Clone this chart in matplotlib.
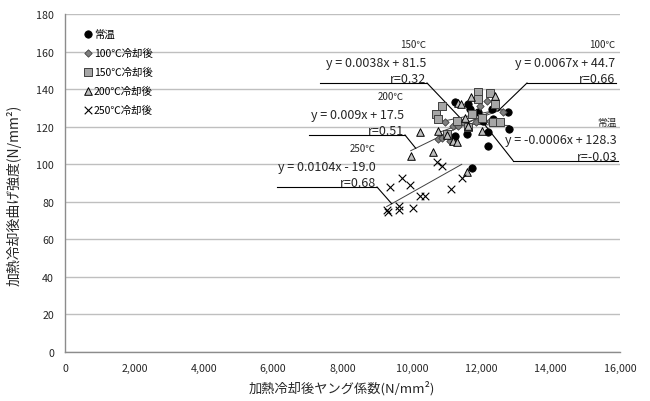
import matplotlib
matplotlib.use("Agg")
import matplotlib.pyplot as plt
import numpy as np

plt.rcParams['font.family'] = ['Noto Sans CJK JP', 'DejaVu Sans']

# ---- data (Young's modulus N/mm2, bending strength N/mm2) ----
rt_x = [11244, 11627, 11676, 11915, 12302, 12348, 12780, 12809, 12204, 12204, 11598, 11244, 11742, 12060]
rt_y = [133.3, 132.1, 129.4, 127.6, 129.4, 124.1, 127.6, 118.7, 117.0, 109.9, 116.1, 115.2, 98.0, 123.2]

c100_x = [10955, 11964, 12157, 11177, 11483, 11849, 10762, 10860, 11099, 11339, 12253, 12636]
c100_y = [122.3, 131.2, 133.8, 120.5, 122.3, 122.6, 113.4, 113.8, 112.5, 120.5, 123.2, 127.6]

c150_x = [11898, 12253, 10860, 10696, 10762, 12397, 11915, 11293, 11022, 12031, 12348, 12541, 11627, 11725]
c150_y = [138.6, 137.9, 131.2, 126.7, 124.1, 132.1, 134.7, 123.2, 116.1, 124.4, 122.3, 122.3, 120.0, 126.7]

c200_x = [11696, 12397, 11339, 11408, 11532, 12013, 11195, 11293, 11004, 11627, 10234, 9966, 10609, 10762, 11598]
c200_y = [135.6, 136.2, 132.6, 132.1, 124.4, 117.8, 112.5, 111.7, 115.6, 120.2, 117.3, 104.2, 106.3, 117.8, 95.7]

c250_x = [10716, 10860, 9707, 9946, 9369, 10234, 10378, 11119, 11437, 9274, 9320, 9629, 9629, 10024]
c250_y = [101.3, 98.9, 92.5, 89.1, 88.0, 82.9, 83.2, 86.8, 92.7, 75.8, 74.7, 77.9, 75.8, 76.5]

legend_labels = ['常温', '100℃冷却後', '150℃冷却後', '200℃冷却後', '250℃冷却後']
short_labels = ['常温', '100℃', '150℃', '200℃', '250℃']
slopes = [-0.0006, 0.0067, 0.0038, 0.009, 0.0104]
intercepts = [128.3, 44.7, 81.5, 17.5, -19.0]
r_values = [-0.03, 0.66, 0.32, 0.51, 0.68]
slope_txt = ['-0.0006', '0.0067', '0.0038', '0.009', '0.0104']

x_ticks = [0, 2000, 4000, 6000, 8000, 10000, 12000, 14000, 16000]
y_ticks = [0, 20, 40, 60, 80, 100, 120, 140, 160, 180]

W, H = 650, 402
fig = plt.figure(figsize=(6.5, 4.02), dpi=100)
L, R, B, T = 65, 620, 353, 15
ax = fig.add_axes([L / W, 1 - B / H, (R - L) / W, (B - T) / H])
ax.set_xlim(0, 16000)
ax.set_ylim(0, 180)

def P(px, py):
    return (px - L) / (R - L) * 16000, (B - py) / (B - T) * 180

grid_c = '#BFBFBF'
ax.set_yticks(y_ticks)
ax.set_xticks(x_ticks)
ax.set_xticklabels([f'{v:,}' for v in x_ticks])
ax.yaxis.grid(True, color=grid_c, lw=1.0)
ax.set_axisbelow(True)
for s in ['top', 'right']:
    ax.spines[s].set_visible(False)
for s in ['left', 'bottom']:
    ax.spines[s].set_color('#8C8C8C')
    ax.spines[s].set_linewidth(1.0)
ax.tick_params(length=0, labelsize=7.7, colors='#262626', pad=8)
ax.set_xlabel('加熱冷却後ヤング係数(N/mm²)', fontsize=9.5, color='#262626')
ax.xaxis.set_label_coords(0.499, -0.083)
ax.set_ylabel('加熱冷却後曲げ強度(N/mm²)', fontsize=10, color='#262626')
ax.yaxis.set_label_coords(-0.078, 0.465)

series = [(rt_x, rt_y), (c100_x, c100_y), (c150_x, c150_y), (c200_x, c200_y), (c250_x, c250_y)]
styles = [
    dict(marker='o', s=28, c='black', edgecolors='black', linewidths=0.6),
    dict(marker='D', s=14, c='#7F7F7F', edgecolors='#404040', linewidths=0.6),
    dict(marker='s', s=34, c='#A6A6A6', edgecolors='#404040', linewidths=0.7),
    dict(marker='^', s=30, c='#BFBFBF', edgecolors='black', linewidths=0.7),
    dict(marker='x', s=30, c='black', linewidths=0.8),
]
handles = []
for (xs, ys), st, lab in zip(series, styles, legend_labels):
    h = ax.scatter(xs, ys, label=lab, zorder=3, **st)
    handles.append(h)

# trendlines
for (xs, ys), m, b in zip(series, slopes, intercepts):
    xx = np.array([min(xs), max(xs)])
    ax.plot(xx, m * xx + b, color='#404040', lw=0.7, zorder=2)

# trendline labels: (underline left px, underline right px, underline y px, leader target x)
lab_pos = [
    (513, 618, 161.5, 12100),
    (527, 616, 84, 12483),
    (320, 427, 84, 11388),
    (309, 405, 136, 10111),
    (277, 377, 188, 9419),
]
for i, (x0, x1, yl, tx) in enumerate(lab_pos):
    a = P(x0, yl); b_ = P(x1, yl)
    ax.plot([a[0], b_[0]], [a[1], b_[1]], color='black', lw=0.8, zorder=2)
    anchor = b_ if i in (2, 3, 4) else a
    ax.plot([anchor[0], tx], [anchor[1], slopes[i] * tx + intercepts[i]], color='black', lw=0.8, zorder=2)
    sgn = '+' if intercepts[i] >= 0 else '-'
    eq = f'y = {slope_txt[i]}x {sgn} {abs(intercepts[i]):.1f}'
    tx_r = P(x1 - 1, 0)[0]
    ax.text(tx_r, P(0, yl - 4.5)[1], f'r={r_values[i]:.2f}', ha='right', va='center', fontsize=9, color='#262626')
    ax.text(tx_r, P(0, yl - 21)[1], eq, ha='right', va='center', fontsize=9, color='#262626')
    ax.text(tx_r, P(0, yl - 39)[1], short_labels[i], ha='right', va='center', fontsize=7, color='#262626')

leg = ax.legend(handles=handles, loc='upper left', bbox_to_anchor=(0.025, 0.975), frameon=False,
                fontsize=7.5, handlelength=0.6, handletextpad=0.25, labelspacing=0.85,
                borderaxespad=0.2, scatterpoints=1)

fig.savefig('out.png', dpi=100)
